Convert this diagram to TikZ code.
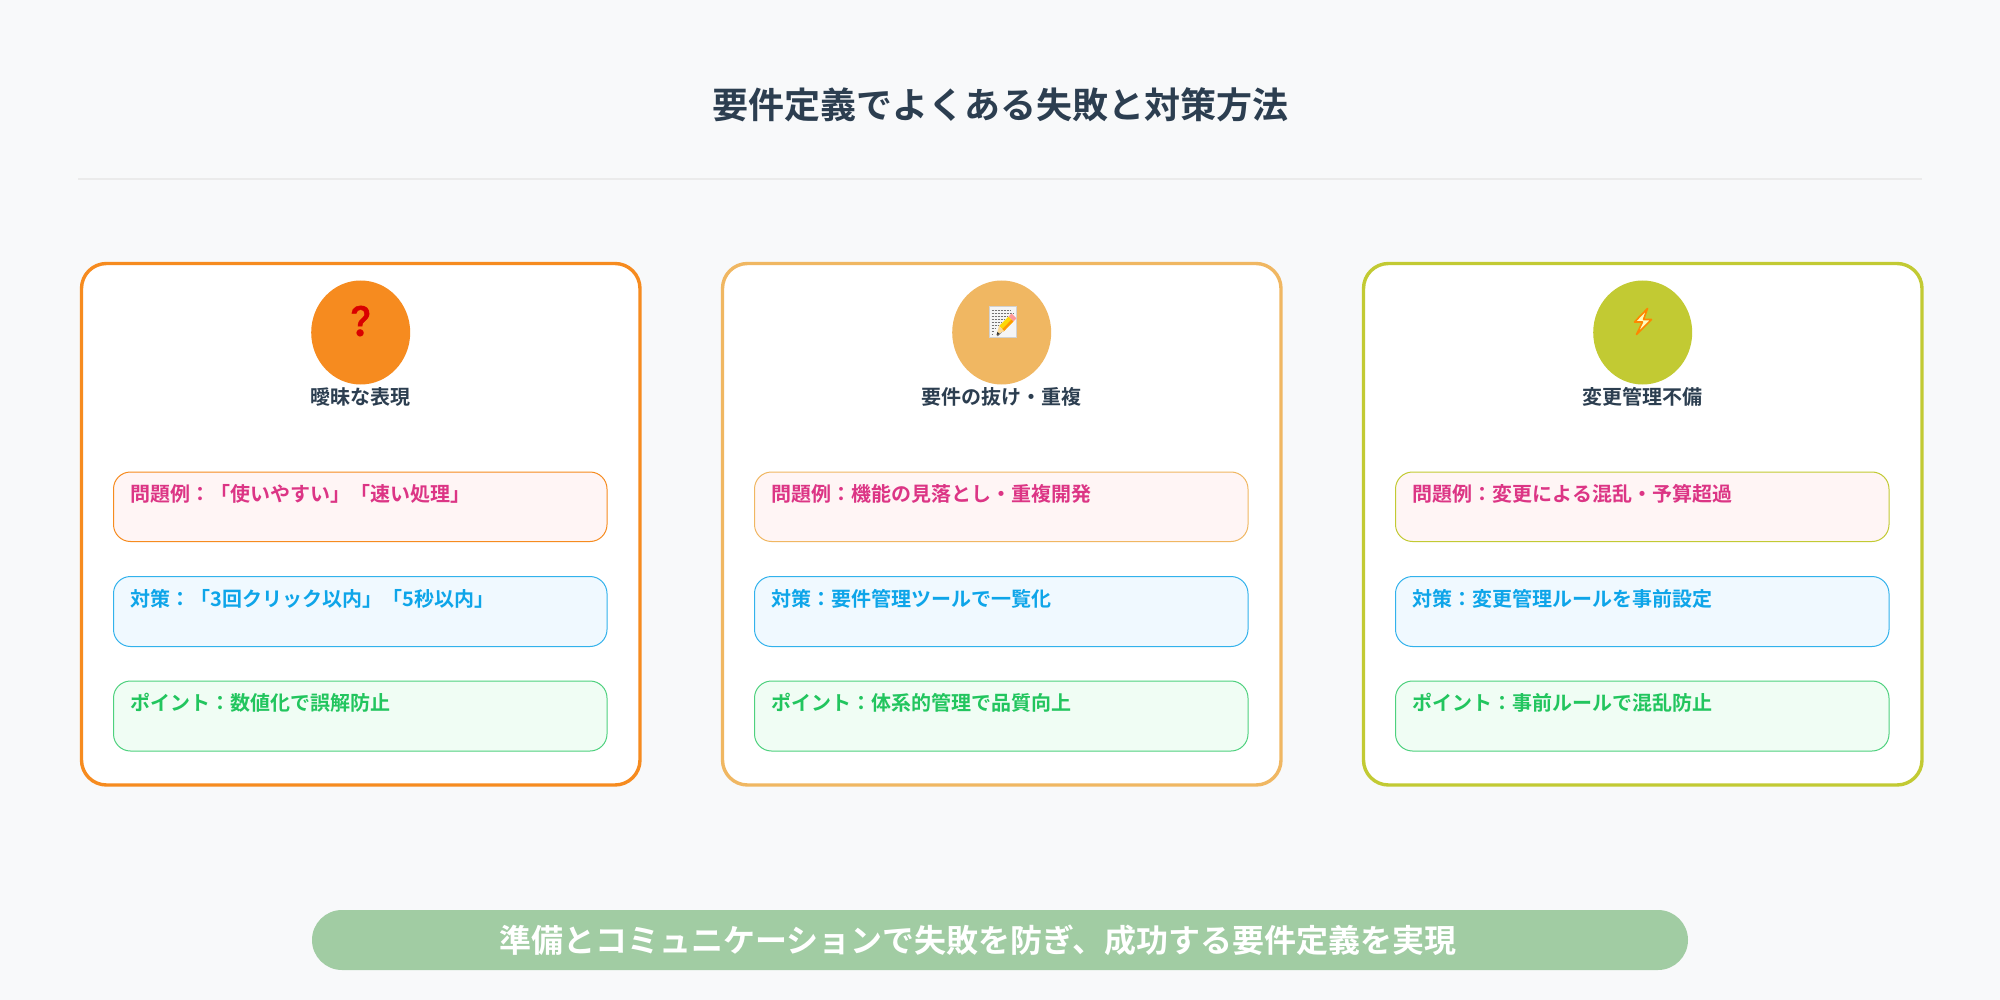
\documentclass[tikz,border=0pt]{standalone}
\usepackage{fontspec}
\setmainfont{Noto Sans CJK JP}[BoldFont={* Bold}]
\newfontfamily\emojifont[FakeBold=1.6]{Noto Emoji}
\definecolor{bgc}{HTML}{F8F9FA}
\definecolor{ink}{HTML}{2C3E50}
\definecolor{cA}{HTML}{F68B1F}
\definecolor{cB}{HTML}{F0B762}
\definecolor{cC}{HTML}{C2CA33}
\definecolor{pinkt}{HTML}{DC3585}
\definecolor{bluet}{HTML}{0EA5E9}
\definecolor{greent}{HTML}{22C55E}
\definecolor{pinkb}{HTML}{FFF5F5}
\definecolor{blueb}{HTML}{F0F9FF}
\definecolor{greenb}{HTML}{F0FDF4}
\definecolor{bann}{HTML}{A1CCA3}
\tikzset{
  x=1pt,y=-1pt,
  card/.style={draw,fill=white,line width=3.4pt,rounded corners=25pt},
  item/.style={line width=1pt,rounded corners=17pt},
  itxt/.style={anchor=west,inner sep=0pt,font=\fontsize{20}{20}\selectfont\bfseries},
  head/.style={anchor=center,inner sep=0pt,text=ink,font=\fontsize{20}{20}\selectfont\bfseries},
}
\newcommand{\onecard}[6]{% x-left, colour, heading, prob, fix, point
  \draw[card,draw=#2] (#1,263.5) rectangle (#1+558.5,785);
  \fill[#2] (#1+279.2,332.5) ellipse [x radius=49.5,y radius=52];
  \node[head] at (#1+279.2,397) {#3};
  \draw[item,draw=#2,fill=pinkb] (#1+32,472) rectangle (#1+525.5,541.5);
  \node[itxt,text=pinkt] at (#1+49,494) {#4};
  \draw[item,draw=bluet!85,fill=blueb] (#1+32,576.5) rectangle (#1+525.5,646.5);
  \node[itxt,text=bluet] at (#1+49,598.5) {#5};
  \draw[item,draw=greent!80,fill=greenb] (#1+32,681) rectangle (#1+525.5,751);
  \node[itxt,text=greent] at (#1+49,703) {#6};
}
\begin{document}
\begin{tikzpicture}
\useasboundingbox (0,0) rectangle (2000,1000);
\fill[bgc] (0,0) rectangle (2000,1000);
\node[anchor=center,inner sep=0pt,text=ink,font=\fontsize{36}{36}\selectfont\bfseries] (title) at (1000,105) {要件定義でよくある失敗と対策方法};
\coordinate (ruleL) at (78,179);
\coordinate (ruleR) at (1922,179);
\draw[line width=1.3pt,draw=black!8] (ruleL) -- (ruleR);
\onecard{81.5}{cA}{曖昧な表現}{問題例：「使いやすい」「速い処理」}{対策：「3回クリック以内」「5秒以内」}{ポイント：数値化で誤解防止}
\onecard{722.5}{cB}{要件の抜け・重複}{問題例：機能の見落とし・重複開発}{対策：要件管理ツールで一覧化}{ポイント：体系的管理で品質向上}
\onecard{1363.5}{cC}{変更管理不備}{問題例：変更による混乱・予算超過}{対策：変更管理ルールを事前設定}{ポイント：事前ルールで混乱防止}
% question emoji
\node[inner sep=0pt,text=red!85!black,font=\emojifont\fontsize{30}{30}\selectfont] (q) at (360.5,321) {❓};
% memo emoji
\fill[black!4!white] (989,306.5) rectangle (1016,337);
\draw[black!18,line width=.4pt] (989,306.5) rectangle (1016,337);
\foreach \yy/\xe in {310/1011,313/1013,316/1007,319/1005,322/1002,325/999,328/996,331/994,334/993}
  \draw[black!55,line width=.7pt,dash pattern=on 2.2pt off .8pt] (991.5,\yy) -- (\xe,\yy);
\draw[black!50,line width=1.6pt,line cap=round] (997.5,335.5) -- (1013,319.5);
\draw[line cap=butt,line width=7pt,draw=yellow!75!orange] (1001.5,328.5) -- (1011,319);
\draw[line cap=butt,line width=2.6pt,draw=orange!80!yellow] (1002.6,330.6) -- (1012.4,320.6);
\draw[line cap=butt,line width=7pt,draw=red!40!white] (1011,319) -- (1014,316);
\fill[yellow!30!orange!40!white] (996.6,335) -- (1001.5-2.5,328.5-2.5) -- (1001.5+2.5,328.5+2.5) -- cycle;
\fill[black!80] (996.6,335) -- (997.4,331.9) -- (999.6,334.1) -- cycle;
% lightning emoji
\filldraw[line width=1.6pt,line join=round,draw=orange!95!yellow,fill=yellow!25!white]
  (1647.5,308.5) -- (1634.5,322) -- (1642.5,322) -- (1636.5,334.5) -- (1651.5,319.5) -- (1643.5,319.5) -- cycle;
% banner
\fill[rounded corners=30pt,fill=bann] (312,910) rectangle (1688,970);
\node[anchor=center,inner sep=0pt,text=white,font=\fontsize{32}{32}\selectfont\bfseries] (ban) at (978,940) {準備とコミュニケーションで失敗を防ぎ、成功する要件定義を実現};
\end{tikzpicture}
\end{document}
